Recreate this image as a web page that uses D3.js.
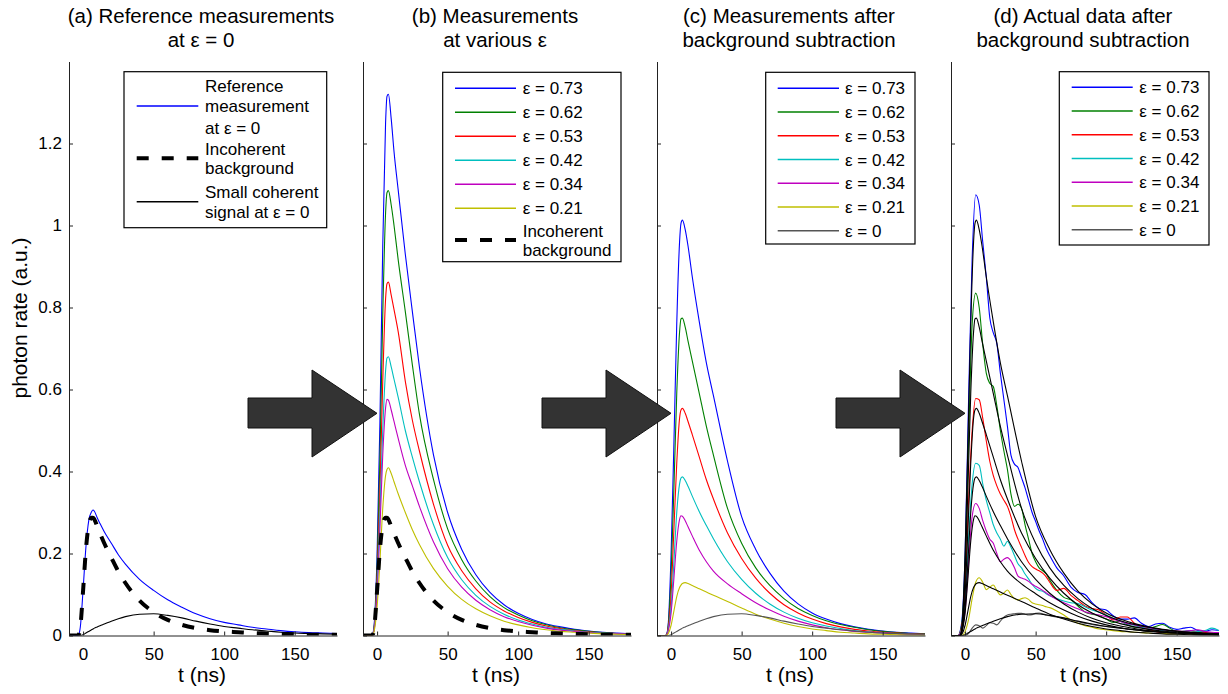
<!DOCTYPE html>
<html><head><meta charset="utf-8">
<script src="https://cdn.jsdelivr.net/npm/d3@7"></script>
<style>
body{margin:0;background:#fff}
text{font-family:"Liberation Sans",Arial,Helvetica,sans-serif;fill:#000}
</style>
</head><body>
<svg id="chart" width="1228" height="694"></svg>
<script>
// ---------------- data ----------------
const tCoarse = [-10,-4,-3,-2,0,2,4,6,7,8,10,12,15,20,25,30,40,50,60,70,80,90,100,110,120,130,140,150,160,170,180];
const tFine = [-10,-5,-2.5,0,2.5,5,7.5,10,12.5,15,17.5,20,22.5,25,27.5,30,32.5,35,37.5,40,42.5,45,47.5,50,52.5,55,57.5,60,65,70,75,80,85,90,95,100,105,110,115,120,125,130,135,140,145,150,155,160,165,170,175,180];

// (a)
const background = [0,0,0.003,0.02,0.11,0.21,0.27,0.287,0.287,0.283,0.266,0.249,0.225,0.19,0.156,0.128,0.085,0.057,0.038,0.026,0.018,0.013,0.01,0.008,0.006,0.005,0.004,0.003,0.002,0.002,0.002];
const coherent0 = [0,0,0,0,0.002,0.006,0.01,0.014,0.016,0.018,0.021,0.024,0.028,0.035,0.041,0.046,0.052,0.053,0.049,0.043,0.035,0.028,0.022,0.018,0.014,0.011,0.008,0.006,0.005,0.004,0.003];
const reference0 = [0,0,0.003,0.02,0.112,0.216,0.28,0.302,0.306,0.303,0.287,0.273,0.253,0.225,0.197,0.174,0.137,0.11,0.087,0.069,0.053,0.041,0.032,0.026,0.02,0.016,0.012,0.009,0.007,0.006,0.005];

// (b) measurements at various epsilon
const b073 = [0,0,0.005,0.03,0.2,0.52,0.95,1.25,1.315,1.32,1.26,1.18,1.085,0.93,0.79,0.655,0.44,0.3,0.21,0.148,0.105,0.075,0.054,0.039,0.028,0.021,0.015,0.011,0.008,0.006,0.004];
const b062 = [0,0,0.004,0.025,0.17,0.43,0.78,1.03,1.08,1.085,1.05,1.0,0.915,0.79,0.66,0.54,0.38,0.26,0.185,0.133,0.095,0.068,0.05,0.036,0.026,0.019,0.014,0.01,0.007,0.005,0.004];
const b053 = [0,0,0.003,0.02,0.14,0.35,0.62,0.82,0.858,0.862,0.83,0.795,0.74,0.62,0.525,0.45,0.32,0.22,0.158,0.114,0.082,0.06,0.044,0.032,0.023,0.017,0.012,0.009,0.006,0.005,0.003];
const b042 = [0,0,0.003,0.018,0.12,0.3,0.5,0.645,0.677,0.68,0.655,0.625,0.58,0.5,0.435,0.375,0.27,0.19,0.136,0.098,0.071,0.052,0.038,0.028,0.02,0.015,0.011,0.008,0.006,0.004,0.003];
const b034 = [0,0,0.003,0.016,0.1,0.26,0.44,0.555,0.576,0.574,0.55,0.522,0.48,0.415,0.365,0.315,0.228,0.163,0.118,0.086,0.063,0.046,0.034,0.025,0.018,0.013,0.01,0.007,0.005,0.004,0.003];
const b021 = [0,0,0.002,0.012,0.07,0.18,0.31,0.39,0.405,0.409,0.395,0.375,0.345,0.3,0.258,0.222,0.163,0.12,0.088,0.065,0.048,0.035,0.026,0.019,0.014,0.01,0.008,0.006,0.004,0.003,0.002];

// (c) after background subtraction (also the fits in (d))
const c073 = [0,0,0.005,0.03,0.2,0.47,0.76,0.96,1.005,1.013,0.99,0.95,0.875,0.765,0.665,0.585,0.425,0.29,0.21,0.152,0.108,0.077,0.055,0.04,0.029,0.021,0.015,0.011,0.008,0.006,0.004];
const c062 = [0,0,0.004,0.025,0.15,0.36,0.59,0.74,0.772,0.774,0.752,0.718,0.67,0.59,0.51,0.44,0.31,0.225,0.165,0.122,0.09,0.066,0.049,0.036,0.027,0.02,0.014,0.01,0.007,0.005,0.004];
const c053 = [0,0,0.003,0.02,0.1,0.26,0.42,0.53,0.55,0.554,0.542,0.522,0.49,0.435,0.38,0.333,0.25,0.188,0.14,0.103,0.075,0.055,0.04,0.029,0.021,0.015,0.011,0.008,0.006,0.004,0.003];
const c042 = [0,0,0.002,0.015,0.07,0.18,0.3,0.37,0.384,0.387,0.378,0.364,0.34,0.302,0.268,0.236,0.18,0.137,0.103,0.077,0.057,0.042,0.031,0.023,0.017,0.012,0.009,0.006,0.005,0.003,0.002];
const c034 = [0,0,0.002,0.012,0.055,0.14,0.23,0.283,0.292,0.291,0.28,0.265,0.243,0.208,0.18,0.157,0.126,0.102,0.08,0.062,0.047,0.035,0.026,0.019,0.014,0.01,0.008,0.006,0.004,0.003,0.002];
const c021 = [0,0,0.001,0.005,0.025,0.06,0.095,0.117,0.123,0.127,0.129,0.127,0.122,0.114,0.106,0.098,0.083,0.067,0.052,0.04,0.03,0.022,0.016,0.012,0.008,0.006,0.004,0.003,0.002,0.001,0.001];

// (d) actual measured data (fine grid)
const d073 = [0,0,0.03,0.2,0.58,0.92,1.075,1.05, 0.96,0.875,0.775,0.738,0.712,0.64,0.575,0.51, 0.44,0.418,0.41,0.385,0.36,0.33,0.3,0.278, 0.255,0.235,0.212,0.195, 0.165,0.145,0.118,0.105,0.1,0.08,0.066,0.062, 0.048,0.04,0.04,0.043,0.03,0.022,0.028,0.03, 0.02,0.015,0.018,0.02,0.012,0.01,0.014,0.012];
const d062 = [0,0,0.025,0.17,0.48,0.76,0.835,0.8, 0.71,0.64,0.615,0.607,0.56,0.5,0.45,0.405, 0.345,0.315,0.32,0.31,0.27,0.235,0.2,0.18, 0.165,0.158,0.15,0.135, 0.11,0.093,0.087,0.072,0.057,0.052,0.048,0.04, 0.032,0.035,0.026,0.02,0.02,0.017,0.022,0.027, 0.018,0.01,0.01,0.012,0.008,0.006,0.006,0.005];
const d053 = [0,0,0.02,0.12,0.33,0.5,0.578,0.575, 0.53,0.475,0.425,0.39,0.365,0.345,0.33,0.315, 0.29,0.258,0.235,0.215,0.195,0.178,0.168,0.162, 0.158,0.152,0.143,0.13, 0.11,0.115,0.098,0.085,0.072,0.066,0.062,0.05, 0.038,0.045,0.045,0.03,0.02,0.015,0.01,0.006, 0.006,0.008,0.006,0.007,0.01,0.008,0.005,0.005];
const d042 = [0,0,0.015,0.08,0.24,0.37,0.42,0.415, 0.37,0.33,0.3,0.27,0.25,0.235,0.218,0.23, 0.215,0.195,0.175,0.165,0.15,0.138,0.125,0.115, 0.11,0.108,0.102,0.097, 0.09,0.084,0.08,0.078,0.07,0.062,0.057,0.05, 0.042,0.035,0.028,0.025,0.02,0.018,0.015,0.012, 0.01,0.008,0.01,0.012,0.01,0.012,0.018,0.012];
const d034 = [0,0,0.012,0.06,0.18,0.29,0.322,0.31, 0.28,0.255,0.235,0.225,0.2,0.18,0.186,0.19, 0.182,0.165,0.145,0.14,0.137,0.132,0.125,0.12, 0.115,0.11,0.104,0.098, 0.088,0.08,0.072,0.065,0.058,0.053,0.05,0.046, 0.04,0.034,0.029,0.026,0.022,0.019,0.016,0.014, 0.012,0.011,0.01,0.012,0.014,0.01,0.008,0.007];
const d021 = [0,0,0,0.01,0.04,0.09,0.13,0.141, 0.13,0.112,0.118,0.123,0.11,0.099,0.104,0.111, 0.1,0.09,0.087,0.09,0.092,0.088,0.08,0.077, 0.075,0.073,0.07,0.068, 0.06,0.05,0.038,0.03,0.024,0.02,0.016,0.014, 0.012,0.01,0.009,0.008,0.007,0.006,0.005,0.005, 0.004,0.004,0.003,0.003,0.003,0.003,0.002,0.002];
const d000 = [0,0,0,0,0.005,0.018,0.026,0.024, 0.018,0.024,0.031,0.03,0.026,0.035,0.045,0.05, 0.052,0.053,0.054,0.054,0.052,0.05,0.051,0.054, 0.055,0.053,0.05,0.048, 0.045,0.042,0.038,0.034,0.03,0.027,0.024,0.022, 0.02,0.018,0.016,0.014,0.012,0.011,0.01,0.009, 0.008,0.007,0.006,0.006,0.005,0.005,0.004,0.004];

// labels
const titles = [["(a) Reference measurements","at \u03b5 = 0"],["(b) Measurements","at various \u03b5"],["(c) Measurements after","background subtraction"],["(d) Actual data after","background subtraction"]];
const xTicks = [0,50,100,150];
const yTicks = [0,0.2,0.4,0.6,0.8,1,1.2];
const epsLabels = ["\u03b5 = 0.73","\u03b5 = 0.62","\u03b5 = 0.53","\u03b5 = 0.42","\u03b5 = 0.34","\u03b5 = 0.21","\u03b5 = 0"];
const legendA = [["Reference","measurement","at \u03b5 = 0"],["Incoherent","background"],["Small coherent","signal at \u03b5 = 0"]];
const epsColors = ["#0000ff","#008000","#ff0000","#00bfbf","#bf00bf","#bfbf00","#555555"];

// ---------------- layout ----------------
const svg = d3.select("#chart");
const panelLefts = [69,363,657,951];
const pw = 268, yTop = 61.5, yBot = 635.5;

const bSeries = [b073,b062,b053,b042,b034,b021];
const cSeries = [c073,c062,c053,c042,c034,c021,coherent0];
const dSeries = [d073,d062,d053,d042,d034,d021,d000];

const panels = [
  {series:[
    {t:tCoarse,v:reference0,color:"#0000ff"},
    {t:tCoarse,v:background,color:"#000",dash:true},
    {t:tCoarse,v:coherent0,color:"#000"}]},
  {series: bSeries.map((v,i)=>({t:tCoarse,v,color:epsColors[i]})).concat([{t:tCoarse,v:background,color:"#000",dash:true}])},
  {series: cSeries.map((v,i)=>({t:tCoarse,v,color:epsColors[i]}))},
  {series: dSeries.map((v,i)=>({t:tFine,v,color:epsColors[i]})).concat(cSeries.map(v=>({t:tCoarse,v,color:"#000"})))}
];

const defs = svg.append("defs");

panels.forEach((p,pi)=>{
  const L = panelLefts[pi];
  const x = d3.scaleLinear().domain([-10,180]).range([L,L+pw]);
  const y = d3.scaleLinear().domain([0,1.4]).range([yBot,yTop]);
  const g = svg.append("g");

  defs.append("clipPath").attr("id","clip"+pi).append("rect")
    .attr("x",L).attr("y",yTop).attr("width",pw).attr("height",yBot-yTop);

  // curves
  const cg = g.append("g").attr("clip-path",`url(#clip${pi})`);
  p.series.forEach(s=>{
    const line = d3.line().x(i=>x(s.t[i])).y(i=>y(s.v[i])).curve(d3.curveMonotoneX);
    cg.append("path").attr("d",line(d3.range(s.t.length)))
      .attr("fill","none").attr("stroke",s.color)
      .attr("stroke-width",s.dash?4:1.1)
      .attr("stroke-dasharray",s.dash?"12,13":null)
      .attr("stroke-linejoin","round");
  });

  // axes
  const ax = d3.axisBottom(x).tickValues(xTicks).tickSizeInner(-4).tickSizeOuter(0).tickPadding(12);
  const ay = d3.axisLeft(y).tickValues(yTicks).tickSizeInner(-4).tickSizeOuter(0).tickPadding(7)
    .tickFormat(d=>pi===0?String(d):"");
  const gx = g.append("g").attr("transform",`translate(0,${yBot})`).call(ax);
  const gy = g.append("g").attr("transform",`translate(${L},0)`).call(ay);
  [gx,gy].forEach(a=>{
    a.attr("color","#222");
    a.selectAll("text").attr("font-size",17).attr("fill","#000")
      .attr("font-family",'"Liberation Sans",Arial,sans-serif');
  });

  // x label
  g.append("text").attr("x",L+pw/2-1).attr("y",682).attr("text-anchor","middle")
    .attr("font-size",21).text("t (ns)");

  // title
  const tt = g.append("text").attr("text-anchor","middle").attr("font-size",20.5);
  tt.append("tspan").attr("x",L+pw/2-2).attr("y",23).text(titles[pi][0]);
  tt.append("tspan").attr("x",L+pw/2-2).attr("y",46.5).text(titles[pi][1]);
});

// y label
svg.append("text").attr("transform","translate(27,318) rotate(-90)")
  .attr("text-anchor","middle").attr("font-size",21).text("photon rate (a.u.)");

// ---------------- legends ----------------
function legendBox(x0,y0,x1,y1){
  svg.append("rect").attr("x",x0).attr("y",y0).attr("width",x1-x0).attr("height",y1-y0)
    .attr("fill","#fff").attr("stroke","#000").attr("stroke-width",1.2);
}
function legLine(x0,x1,yy,color,dash){
  svg.append("line").attr("x1",x0).attr("x2",x1).attr("y1",yy).attr("y2",yy)
    .attr("stroke",color).attr("stroke-width",dash?4:1.5)
    .attr("stroke-dasharray",dash?"12,13":null);
}
function legText(xx,yy,str){
  svg.append("text").attr("x",xx).attr("y",yy+6).attr("font-size",17).text(str);
}

// (a)
legendBox(124,71.7,326.7,227.7);
legLine(136.7,198.3,106,"#0000ff");
legLine(136.7,198.3,158.3,"#000",true);
legLine(136.7,198.3,201.7,"#000");
[[85.7,legendA[0][0]],[106,legendA[0][1]],[127.7,legendA[0][2]],[149.3,legendA[1][0]],[168.3,legendA[1][1]],[191.7,legendA[2][0]],[211.7,legendA[2][1]]]
  .forEach(([yy,s])=>legText(205,yy,s));

// (b)
legendBox(442.7,72.3,621,261.7);
epsLabels.slice(0,6).forEach((s,i)=>{
  const yy = 88.3+24*i;
  legLine(455,516,yy,epsColors[i]);
  legText(522.7,yy,s);
});
legLine(455,516,240,"#000",true);
legText(522.7,230.7,legendA[1][0]);
legText(522.7,250,legendA[1][1]);

// (c) and (d)
[[765.7,72.3,915,244,777.7,839,845,88.3],[1059.3,71.7,1209,245,1071.7,1132.7,1139.3,87.3]].forEach(L=>{
  legendBox(L[0],L[1],L[2],L[3]);
  epsLabels.forEach((s,i)=>{
    const yy = L[7]+23.75*i;
    legLine(L[4],L[5],yy,epsColors[i]);
    legText(L[6],yy,s);
  });
});

// ---------------- arrows ----------------
const arrowShape = [[248,398],[312,398],[312,370],[377,413.3],[312,457],[312,428],[248,428]];
[0,294,588].forEach(dx=>{
  svg.append("polygon")
    .attr("points",arrowShape.map(p=>[p[0]+dx,p[1]].join(",")).join(" "))
    .attr("fill","#333").attr("stroke","#111").attr("stroke-width",1);
});
</script>
</body></html>
